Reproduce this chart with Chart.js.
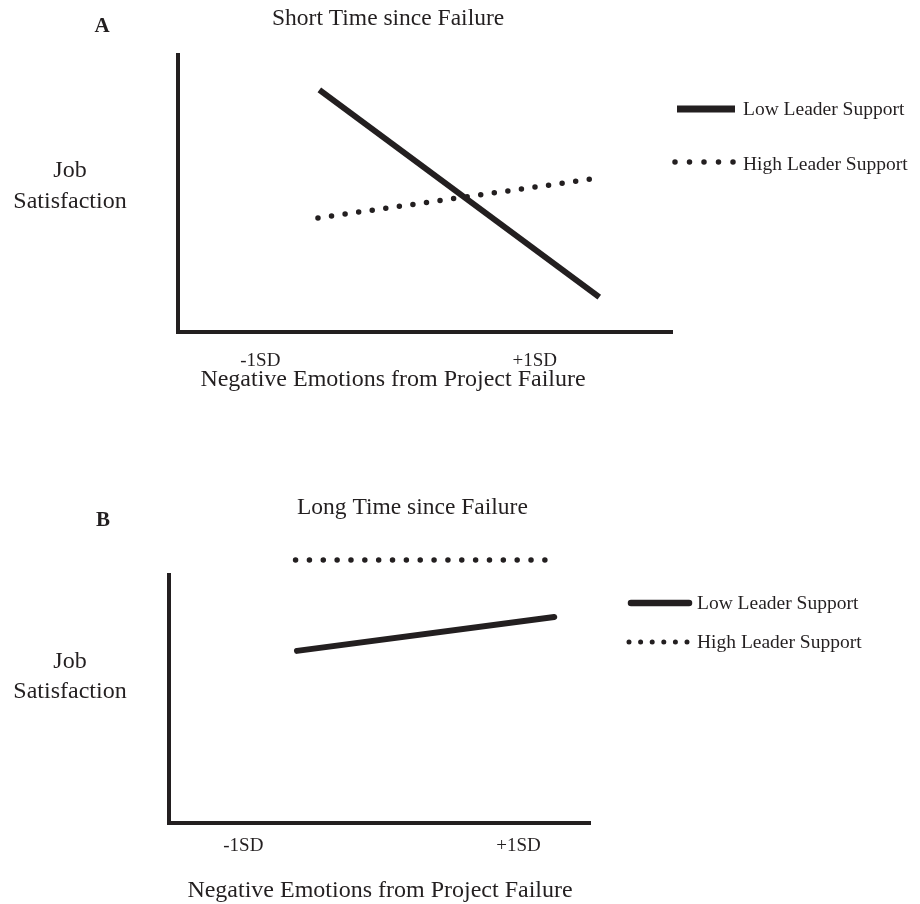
<!DOCTYPE html>
<html>
<head>
<meta charset="utf-8">
<script src="https://cdn.jsdelivr.net/npm/chart.js@4"></script>
<style>
  body{ margin:0; background:#fff; }
  canvas{ display:block; }
</style>
</head>
<body>
<canvas id="chartA" width="920" height="440"></canvas>
<canvas id="chartB" width="920" height="464"></canvas>
<script>
const xTickValues = [-1, 1];
const xTickLabels = ['-1SD', '+1SD'];
const seriesNames = ['Low Leader Support', 'High Leader Support'];

// A: short time since failure
const shortLowX = [-0.57, 1.47];
const shortLowY = [8.74, 1.26];
const shortHighX = [-0.58, 1.41];
const shortHighY = [4.12, 5.52];

// B: long time since failure
const longLowX = [-0.61, 1.26];
const longLowY = [6.94, 8.31];
const longHighX = [-0.62, 1.2];
const longHighY = [10.6, 10.6];

const ink = '#231f20';
const serif = '"Liberation Serif", "Times New Roman", serif';

function points(xs, ys){
    return xs.map((x, i) => ({x: x, y: ys[i]}));
}

// titles, y label, x label and legend are drawn here
const panelText = {
    id: 'panelText',
    afterDraw(chart, args, p){
        const ctx = chart.ctx;
        ctx.save();
        ctx.fillStyle = ink;
        ctx.textBaseline = 'alphabetic';

        ctx.font = 'bold 21px ' + serif;
        ctx.textAlign = 'center';
        ctx.fillText(p.letter, p.letterX, p.letterY);

        ctx.font = '23.5px ' + serif;
        ctx.textAlign = 'left';
        ctx.fillText(p.title, p.titleX, p.titleY);

        ctx.font = '24px ' + serif;
        ctx.textAlign = 'center';
        p.yLabel.forEach((line, i) => ctx.fillText(line, p.yLabelX, p.yLabelY[i]));
        ctx.fillText(p.xLabel, p.xLabelX, p.xLabelY);

        ctx.font = '19.5px ' + serif;
        ctx.textAlign = 'left';
        chart.data.datasets.forEach((ds, i) => {
            const L = p.legend[i];
            ctx.beginPath();
            ctx.strokeStyle = ink;
            ctx.lineWidth = L.width;
            ctx.lineCap = L.cap;
            ctx.setLineDash(L.dash);
            ctx.moveTo(L.x0, L.y);
            ctx.lineTo(L.x1, L.y);
            ctx.stroke();
            ctx.setLineDash([]);
            ctx.fillText(ds.label, p.legendTextX, L.textY);
        });
        ctx.restore();
    }
};

function makeChart(id, low, high, xMin, xMax, pad, xHeight, tickPad, lowCap, dotGap, text){
    return new Chart(document.getElementById(id), {
        type: 'line',
        data: {
            datasets: [{
                label: seriesNames[0],
                data: low,
                borderColor: ink,
                borderWidth: 6,
                borderCapStyle: lowCap,
                pointRadius: 0,
                clip: false
            }, {
                label: seriesNames[1],
                data: high,
                borderColor: ink,
                borderWidth: 5.5,
                borderCapStyle: 'round',
                borderDash: [0, dotGap],
                pointRadius: 0,
                clip: false
            }]
        },
        options: {
            responsive: false,
            animation: false,
            devicePixelRatio: 1,
            layout: { padding: pad },
            plugins: {
                legend: { display: false },
                tooltip: { enabled: false },
                panelText: text
            },
            scales: {
                x: {
                    type: 'linear',
                    min: xMin,
                    max: xMax,
                    grid: { display: false, drawTicks: false },
                    border: { display: true, color: ink, width: 4 },
                    afterBuildTicks: s => { s.ticks = xTickValues.map(v => ({value: v})); },
                    afterFit: s => { s.height = xHeight; },
                    ticks: {
                        autoSkip: false,
                        maxRotation: 0,
                        padding: tickPad,
                        color: ink,
                        font: { family: serif, size: 19 },
                        callback: (v, i) => xTickLabels[i]
                    }
                },
                y: {
                    min: 0,
                    max: 10,
                    grid: { display: false, drawTicks: false },
                    border: { display: true, color: ink, width: 4 },
                    ticks: { display: false },
                    afterFit: s => { s.width = 0; }
                }
            }
        },
        plugins: [panelText]
    });
}

makeChart('chartA',
    points(shortLowX, shortLowY), points(shortHighX, shortHighY),
    -1.6, 2.0, {left: 178, right: 248, top: 55, bottom: 0}, 108, 18, 'butt', 13.7,
    {
        letter: 'A', letterX: 102, letterY: 32,
        title: 'Short Time since Failure', titleX: 272, titleY: 25,
        yLabel: ['Job', 'Satisfaction'], yLabelX: 70, yLabelY: [177, 208],
        xLabel: 'Negative Emotions from Project Failure', xLabelX: 393, xLabelY: 386,
        legendTextX: 743,
        legend: [
            {x0: 677, x1: 735, y: 109, width: 7, cap: 'butt', dash: [], textY: 115},
            {x0: 675, x1: 734, y: 162, width: 5.5, cap: 'round', dash: [0, 14.5], textY: 170}
        ]
    });

makeChart('chartB',
    points(longLowX, longLowY), points(longHighX, longHighY),
    -1.54, 1.52, {left: 169, right: 330, top: 135, bottom: 0}, 81, 12, 'round', 13.85,
    {
        letter: 'B', letterX: 103, letterY: 86,
        title: 'Long Time since Failure', titleX: 297, titleY: 74,
        yLabel: ['Job', 'Satisfaction'], yLabelX: 70, yLabelY: [228, 258],
        xLabel: 'Negative Emotions from Project Failure', xLabelX: 380, xLabelY: 457,
        legendTextX: 697,
        legend: [
            {x0: 631, x1: 689, y: 163, width: 6.5, cap: 'round', dash: [], textY: 169},
            {x0: 629, x1: 688, y: 202, width: 5, cap: 'round', dash: [0, 11.6], textY: 208}
        ]
    });
</script>
</body>
</html>
